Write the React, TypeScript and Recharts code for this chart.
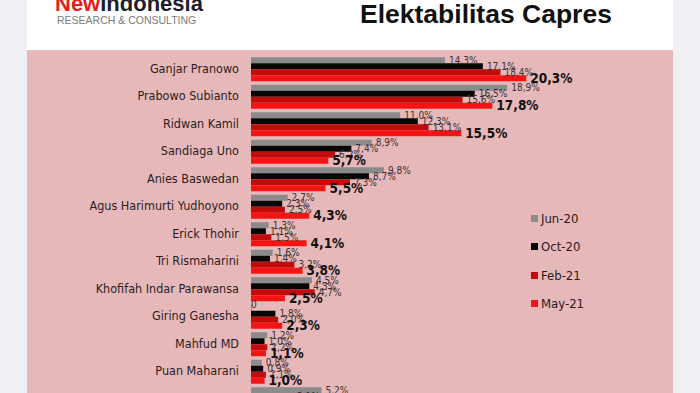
import { Bar, BarChart, LabelList, XAxis, YAxis } from 'recharts';

const candidates = [
  'Ganjar Pranowo',
  'Prabowo Subianto',
  'Ridwan Kamil',
  'Sandiaga Uno',
  'Anies Baswedan',
  'Agus Harimurti Yudhoyono',
  'Erick Thohir',
  'Tri Rismaharini',
  'Khofifah Indar Parawansa',
  'Giring Ganesha',
  'Mahfud MD',
  'Puan Maharani',
  'Lainnya',
];
const jun20 = [14.3, 18.9, 11.0, 8.9, 9.8, 2.7, 1.3, 1.6, 4.5, 0, 1.2, 0.8, 5.2];
const oct20 = [17.1, 16.5, 12.3, 7.4, 8.7, 2.3, 1.1, 1.4, 4.3, 1.8, 1.0, 0.9, 3.1];
const feb21 = [18.4, 15.6, 13.1, 6.2, 7.3, 2.5, 1.5, 3.2, 4.7, 2.0, 1.2, 1.1, 2.4];
const may21 = [20.3, 17.8, 15.5, 5.7, 5.5, 4.3, 4.1, 3.8, 2.5, 2.3, 1.1, 1.0, 1.9];

const seriesKeys = ['jun20', 'oct20', 'feb21', 'may21'];
const seriesNames = ['Jun-20', 'Oct-20', 'Feb-21', 'May-21'];
const seriesColors = ['#8b8b8b', '#060606', '#c20b0b', '#f41414'];

const data = candidates.map((name, i) => ({
  name,
  jun20: jun20[i],
  oct20: oct20[i],
  feb21: feb21[i],
  may21: may21[i],
}));

const font = "'DejaVu Sans Condensed', 'DejaVu Sans', sans-serif";
const pct = (v: number) => (v === 0 ? '0' : v.toFixed(1).replace('.', ',') + '%');

// value label drawn just right of the bar end
function makeLabel(bold: boolean) {
  return (props: any) => {
    const { x, y, width, height, value } = props;
    const v = Number(value);
    const zero = v === 0;
    return (
      <text
        x={Number(x) + (zero ? 0 : Number(width || 0) + 4)}
        y={Number(y) + Number(height) / 2 + (zero ? -3 : 0)}
        dy="0.35em"
        fontFamily={font}
        fontSize={bold ? 13.5 : 10}
        fontWeight={bold ? 'bold' : 'normal'}
        fill={bold ? '#141010' : '#3c3030'}
      >
        {pct(v)}
      </text>
    );
  };
}

export default function App() {
  return (
    <div
      style={{
        position: 'fixed',
        left: 0,
        top: 0,
        width: 700,
        height: 393,
        overflow: 'hidden',
        background: '#eef0f3',
      }}
    >
      <div style={{ position: 'absolute', left: 27, top: 0, width: 646, height: 50, background: '#ffffff' }} />
      <div style={{ position: 'absolute', left: 27, top: 50, width: 646, height: 343, background: '#e6b8b9' }} />

      <svg width={700} height={50} style={{ position: 'absolute', left: 0, top: 0 }}>
        <text x={55} y={11} fontFamily="'Liberation Sans', Arial, sans-serif" fontWeight="bold" fontSize={22}>
          <tspan fill="#e3211c">New</tspan>
          <tspan fill="#1d1d2b">Indonesia</tspan>
        </text>
        <text x={57} y={24} fontFamily="'Liberation Sans', Arial, sans-serif" fontSize={10.5} fill="#7a7a7a">
          RESEARCH &amp; CONSULTING
        </text>
        <text x={360} y={23} fontFamily="'Liberation Sans', Arial, sans-serif" fontWeight="bold" fontSize={26.5} fill="#111">
          Elektabilitas Capres
        </text>
      </svg>

      <div style={{ position: 'absolute', left: 0, top: 0 }}>
        <BarChart
          width={700}
          height={430}
          data={data}
          layout="vertical"
          margin={{ top: 54.5, right: 42.2, bottom: 18, left: 0 }}
          barCategoryGap="10%"
          barGap={0}
        >
          <XAxis type="number" domain={[0, 30]} hide />
          <YAxis
            type="category"
            dataKey="name"
            width={251}
            axisLine={false}
            tickLine={false}
            tickMargin={6}
            interval={0}
            tick={{ fontSize: 12.5, fill: '#2b1d1e', fontFamily: font }}
          />
          {seriesKeys.map((key, i) => (
            <Bar
              key={key}
              dataKey={key}
              name={seriesNames[i]}
              fill={seriesColors[i]}
              minPointSize={i === 0 ? 1 : 0}
              isAnimationActive={false}
            >
              <LabelList dataKey={key} content={makeLabel(i === 3)} />
            </Bar>
          ))}
        </BarChart>
      </div>

      {seriesNames.map((s, i) => (
        <div
          key={s}
          style={{
            position: 'absolute',
            left: 531,
            top: 209 + i * 28.5,
            height: 18,
            display: 'flex',
            alignItems: 'center',
            fontFamily: font,
            fontSize: 13,
            color: '#2a1a1a',
          }}
        >
          <span style={{ width: 7, height: 7, background: seriesColors[i], marginRight: 3, display: 'inline-block' }} />
          {s}
        </div>
      ))}
    </div>
  );
}
